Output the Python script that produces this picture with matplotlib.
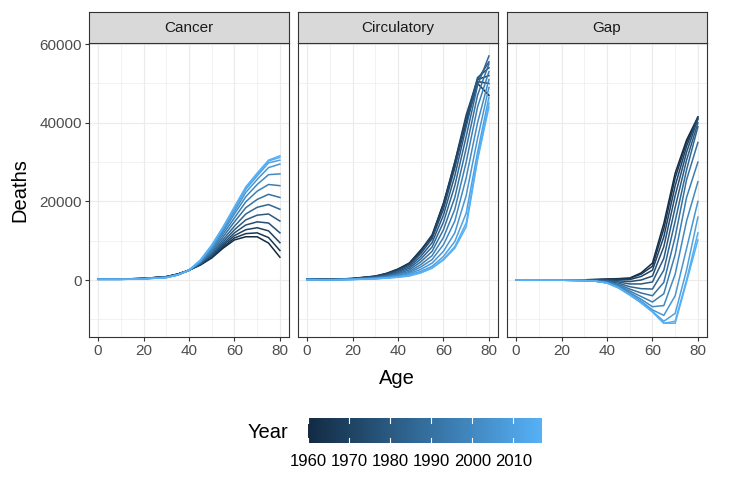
import numpy as np
import matplotlib
matplotlib.use("Agg")
import matplotlib.pyplot as plt
from matplotlib.colors import LinearSegmentedColormap

plt.rcParams['font.family'] = ['Liberation Sans', 'DejaVu Sans']

ages = [0, 10, 20, 30, 35, 40, 45, 50, 55, 60, 65, 70, 75, 80]
years = [1960, 1965, 1970, 1975, 1980, 1985, 1990, 1995, 2000, 2005, 2010, 2015, 2017]

cancer = [
    [300, 250, 400, 850, 1500, 2500, 3800, 5600, 8100, 10200, 11000, 11000, 9400, 5800],
    [300, 250, 400, 850, 1500, 2500, 3900, 5800, 8400, 10700, 11800, 12000, 10800, 7500],
    [280, 240, 400, 850, 1500, 2500, 4000, 6000, 8800, 11300, 12800, 13300, 12500, 9500],
    [260, 230, 380, 800, 1450, 2500, 4100, 6200, 9200, 12000, 14000, 14800, 14500, 12000],
    [240, 220, 370, 780, 1400, 2450, 4200, 6500, 9700, 12800, 15300, 16500, 16800, 15000],
    [220, 210, 360, 760, 1380, 2450, 4300, 6800, 10300, 13700, 16800, 18500, 19200, 18000],
    [200, 200, 350, 740, 1350, 2450, 4400, 7200, 11000, 14800, 18400, 20500, 21800, 21000],
    [190, 190, 340, 700, 1320, 2450, 4500, 7600, 11700, 15800, 19900, 22600, 24300, 24000],
    [180, 180, 330, 680, 1300, 2450, 4600, 8000, 12300, 16800, 21200, 24300, 26800, 27000],
    [170, 170, 320, 650, 1280, 2450, 4750, 8300, 12800, 17500, 22300, 25600, 28600, 29500],
    [160, 160, 310, 620, 1280, 2500, 4900, 8600, 13200, 18100, 23100, 26500, 29800, 30500],
    [150, 150, 300, 600, 1280, 2500, 5000, 8800, 13400, 18500, 23500, 27000, 30300, 31200],
    [150, 150, 300, 600, 1300, 2500, 5100, 8900, 13500, 18600, 23700, 27200, 30500, 31600],
]

circulatory = [
    [300, 150, 400, 1000, 1700, 2800, 4300, 7600, 11000, 19500, 29000, 40000, 50000, 47000],
    [280, 140, 380, 950, 1650, 2700, 4300, 7500, 11500, 19500, 30000, 41000, 50500, 50000],
    [250, 130, 360, 900, 1550, 2600, 4100, 7200, 11200, 19000, 30000, 42000, 51000, 52000],
    [220, 120, 330, 830, 1400, 2400, 3800, 6700, 10500, 18000, 28500, 41000, 51500, 54000],
    [200, 110, 300, 760, 1250, 2100, 3400, 6000, 9500, 16500, 26500, 39000, 51000, 55500],
    [180, 100, 270, 680, 1100, 1850, 3000, 5300, 8400, 14700, 24000, 36500, 49500, 57000],
    [160, 90, 240, 600, 950, 1600, 2600, 4600, 7300, 12800, 21000, 33500, 47000, 55000],
    [140, 80, 210, 520, 820, 1400, 2200, 3900, 6200, 10800, 18000, 30000, 44000, 53000],
    [120, 70, 180, 450, 700, 1200, 1900, 3300, 5200, 9000, 15000, 26000, 40000, 51000],
    [100, 60, 160, 400, 620, 1000, 1600, 2700, 4300, 7300, 12000, 21500, 36000, 49000],
    [90, 50, 140, 350, 540, 850, 1350, 2200, 3500, 6000, 9800, 17000, 32500, 46500],
    [80, 50, 130, 320, 500, 750, 1150, 1900, 3100, 5300, 8500, 14500, 31000, 45000],
    [80, 50, 130, 300, 480, 700, 1000, 1800, 3000, 5100, 8100, 13500, 30500, 44000],
]

gap = [
    [0, 0, 0, 50, 150, 250, 350, 500, 1800, 4300, 14400, 27200, 35600, 41500],
    [0, 0, 0, 50, 100, 200, 300, 400, 1500, 3500, 13000, 26000, 35000, 41000],
    [0, 0, 0, 0, 50, 100, 100, 100, 900, 2500, 11000, 24000, 34000, 41500],
    [0, 0, 0, 0, 0, 0, -200, -400, 0, 1000, 8500, 21500, 32500, 41000],
    [0, 0, 0, 0, -50, -150, -500, -1000, -1000, -500, 5500, 18500, 30500, 40000],
    [0, 0, 0, -50, -100, -300, -800, -1700, -2200, -2300, 2500, 15000, 28000, 39000],
    [0, 0, -50, -100, -200, -450, -1100, -2300, -3300, -4000, -600, 11000, 25500, 35000],
    [0, 0, -50, -100, -250, -550, -1400, -2800, -4200, -5600, -3500, 6500, 21000, 30000],
    [0, 0, -50, -150, -300, -650, -1600, -3200, -4900, -6800, -6500, 1500, 15000, 25000],
    [0, 0, -50, -150, -300, -700, -1800, -3500, -5400, -7600, -9000, -4000, 8000, 20000],
    [0, 0, -50, -150, -300, -750, -1900, -3700, -5700, -8000, -10500, -8500, 2500, 16000],
    [0, 0, -50, -150, -300, -750, -2000, -3800, -5800, -8100, -11000, -10500, 0, 12000],
    [0, 0, -50, -150, -300, -760, -2000, -3800, -5800, -8100, -11000, -11000, -500, 10200],
]

panels = ["Cancer", "Circulatory", "Gap"]
panel_data = [cancer, circulatory, gap]

cmap = LinearSegmentedColormap.from_list("gg", ["#132B43", "#56B1F7"])
y0, y1 = 1960, 2017

W, H = 744, 490
fig = plt.figure(figsize=(W / 100, H / 100), dpi=100)

lefts = [89, 298, 507]
pw = 200
ptop, pbot = 43, 337
strip_top = 12

for i, (name, data) in enumerate(zip(panels, panel_data)):
    ax = fig.add_axes([lefts[i] / W, (H - pbot) / H, pw / W, (pbot - ptop) / H])
    for yr, row in zip(years, data):
        ax.plot(ages, row, color=cmap((yr - y0) / (y1 - y0)), lw=1.1)
    ax.set_xlim(-4, 84)
    ax.set_ylim(-14500, 60300)
    ax.set_xticks([0, 20, 40, 60, 80])
    ax.set_xticks([10, 30, 50, 70], minor=True)
    ax.set_yticks([0, 20000, 40000, 60000])
    ax.set_yticks([-10000, 10000, 30000, 50000], minor=True)
    ax.grid(which="major", color="#EBEBEB", lw=0.8)
    ax.grid(which="minor", color="#EBEBEB", lw=0.45)
    ax.set_axisbelow(True)
    for s in ax.spines.values():
        s.set_color("#333333")
        s.set_linewidth(0.8)
    ax.tick_params(which="major", length=3, width=0.8, color="#333333",
                   labelsize=11, labelcolor="#4D4D4D", pad=2)
    ax.tick_params(which="minor", length=0)
    if i > 0:
        ax.tick_params(axis="y", which="both", length=0, labelleft=False)
    # strip
    sax = fig.add_axes([lefts[i] / W, (H - ptop) / H, pw / W, (ptop - strip_top) / H])
    sax.set_facecolor("#D9D9D9")
    sax.set_xticks([])
    sax.set_yticks([])
    for s in sax.spines.values():
        s.set_color("#333333")
        s.set_linewidth(0.8)
    sax.text(0.5, 0.5, name, ha="center", va="center", fontsize=11,
             color="#1A1A1A", transform=sax.transAxes)

fig.text(397 / W, 1 - 378 / H, "Age", ha="center", va="center", fontsize=14.5)
fig.text(20 / W, 1 - 190 / H, "Deaths", ha="center", va="center",
         rotation=90, fontsize=14.5)

# colour bar legend
cb_l, cb_r, cb_t, cb_b = 308, 542, 418, 443
cax = fig.add_axes([cb_l / W, (H - cb_b) / H, (cb_r - cb_l) / W, (cb_b - cb_t) / H])
grad = np.linspace(0, 1, 256).reshape(1, -1)
cax.imshow(grad, cmap=cmap, aspect="auto", extent=[y0, y1, 0, 1])
cax.set_xlim(y0, y1)
cax.set_ylim(0, 1)
for s in cax.spines.values():
    s.set_visible(False)
cax.set_yticks([])
cax.set_xticks([])
for b in [1960, 1970, 1980, 1990, 2000, 2010]:
    cax.plot([b, b], [0, 0.2], color="white", lw=0.8)
    cax.plot([b, b], [0.8, 1], color="white", lw=0.8)
    cax.text(b, -0.45, str(b), ha="center", va="top", fontsize=12,
             color="black")
fig.text(268 / W, 1 - 432 / H, "Year", ha="center", va="center", fontsize=14.5)

fig.savefig("out.png", dpi=100)
